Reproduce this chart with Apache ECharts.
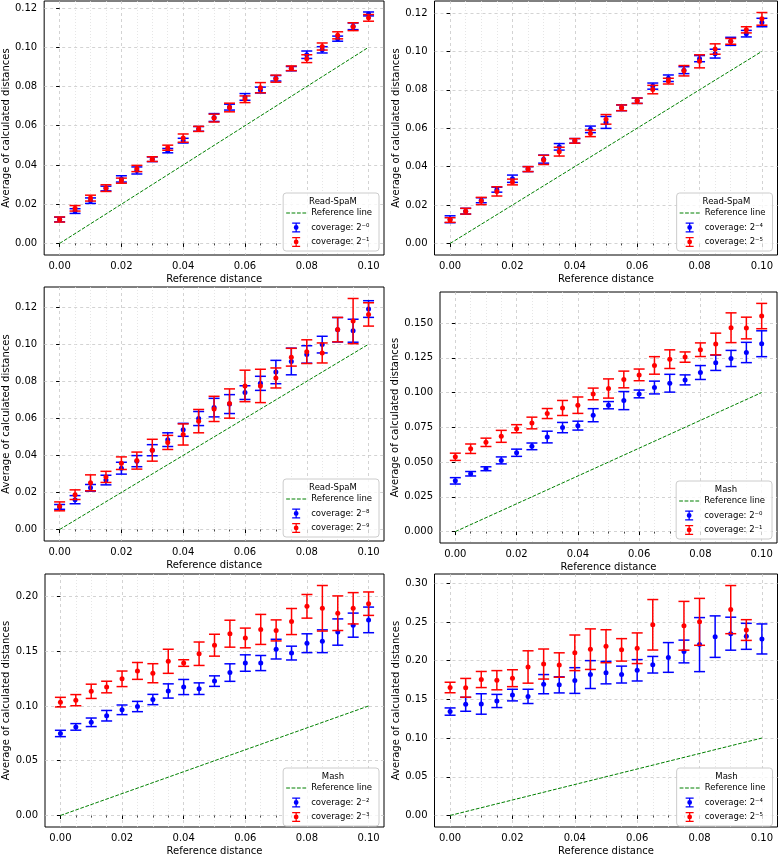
<!DOCTYPE html>
<html>
<head>
<meta charset="utf-8">
<script src="https://cdn.jsdelivr.net/npm/echarts@6/dist/echarts.min.js"></script>
<style>html,body{margin:0;padding:0;background:#fff}#chart{width:778px;height:857px}</style>
</head>
<body>
<div id="chart"></div>
<script>
// ---------------- DATA ----------------
const xValues = [0.000, 0.005, 0.010, 0.015, 0.020, 0.025, 0.030, 0.035, 0.040, 0.045, 0.050,
                 0.055, 0.060, 0.065, 0.070, 0.075, 0.080, 0.085, 0.090, 0.095, 0.100];
const refLineX = [0.0, 0.1];
const xTickLabels = [0.00, 0.02, 0.04, 0.06, 0.08, 0.10];
const yTicks002 = [0.00, 0.02, 0.04, 0.06, 0.08, 0.10, 0.12];
const yTicks0025 = [0.000, 0.025, 0.050, 0.075, 0.100, 0.125, 0.150];
const yTicks005a = [0.00, 0.05, 0.10, 0.15, 0.20];
const yTicks005b = [0.00, 0.05, 0.10, 0.15, 0.20, 0.25, 0.30];

const methodNames = ['Read-SpaM', 'Read-SpaM', 'Read-SpaM', 'Mash', 'Mash', 'Mash'];
const blueNames = ['coverage: 2\u207B\u2070', 'coverage: 2\u207B\u2074', 'coverage: 2\u207B\u2078',
                   'coverage: 2\u207B\u2070', 'coverage: 2\u207B\u00B2', 'coverage: 2\u207B\u2074'];
const redNames  = ['coverage: 2\u207B\u00B9', 'coverage: 2\u207B\u2075', 'coverage: 2\u207B\u2079',
                   'coverage: 2\u207B\u00B9', 'coverage: 2\u207B\u00B3', 'coverage: 2\u207B\u2075'];

// Panel 1: Read-SpaM, 2^-0 / 2^-1
const rs0Mean = [0.0122, 0.0165, 0.0218, 0.0280, 0.0329, 0.0372, 0.0429, 0.0473, 0.0524, 0.0584, 0.0642, 0.0695, 0.0747, 0.0782, 0.0842, 0.0891, 0.0962, 0.0987, 0.1044, 0.1107, 0.1170];
const rs0Err  = [0.0012, 0.0012, 0.0014, 0.0012, 0.0016, 0.0018, 0.0012, 0.0011, 0.0012, 0.0012, 0.0020, 0.0015, 0.0017, 0.0015, 0.0014, 0.0011, 0.0019, 0.0016, 0.0013, 0.0017, 0.0010];
const rs1Mean = [0.0122, 0.0179, 0.0231, 0.0282, 0.0320, 0.0382, 0.0430, 0.0488, 0.0537, 0.0584, 0.0639, 0.0693, 0.0735, 0.0794, 0.0840, 0.0893, 0.0942, 0.1004, 0.1061, 0.1105, 0.1150];
const rs1Err  = [0.0013, 0.0014, 0.0015, 0.0017, 0.0013, 0.0016, 0.0012, 0.0013, 0.0021, 0.0013, 0.0020, 0.0022, 0.0017, 0.0026, 0.0018, 0.0012, 0.0020, 0.0018, 0.0018, 0.0020, 0.0017];
// Panel 2: Read-SpaM, 2^-4 / 2^-5
const rs4Mean = [0.0126, 0.0168, 0.0225, 0.0280, 0.0337, 0.0387, 0.0439, 0.0503, 0.0534, 0.0594, 0.0630, 0.0706, 0.0743, 0.0819, 0.0860, 0.0902, 0.0962, 0.0988, 0.1052, 0.1092, 0.1150];
const rs4Err  = [0.0018, 0.0015, 0.0013, 0.0013, 0.0019, 0.0013, 0.0021, 0.0017, 0.0012, 0.0017, 0.0031, 0.0015, 0.0014, 0.0016, 0.0017, 0.0018, 0.0016, 0.0023, 0.0021, 0.0017, 0.0022];
const rs5Mean = [0.0122, 0.0168, 0.0221, 0.0271, 0.0320, 0.0387, 0.0435, 0.0478, 0.0534, 0.0573, 0.0646, 0.0706, 0.0743, 0.0801, 0.0845, 0.0899, 0.0948, 0.1012, 0.1052, 0.1112, 0.1169];
const rs5Err  = [0.0012, 0.0015, 0.0019, 0.0024, 0.0015, 0.0013, 0.0024, 0.0023, 0.0012, 0.0017, 0.0025, 0.0015, 0.0014, 0.0022, 0.0015, 0.0027, 0.0034, 0.0027, 0.0015, 0.0016, 0.0033];
// Panel 3: Read-SpaM, 2^-8 / 2^-9
const rs8Mean = [0.0122, 0.0161, 0.0225, 0.0267, 0.0331, 0.0369, 0.0428, 0.0485, 0.0538, 0.0599, 0.0658, 0.0677, 0.0739, 0.0789, 0.0850, 0.0907, 0.0945, 0.0998, 0.1078, 0.1073, 0.1190];
const rs8Err  = [0.0013, 0.0022, 0.0018, 0.0026, 0.0032, 0.0030, 0.0030, 0.0037, 0.0035, 0.0038, 0.0050, 0.0051, 0.0037, 0.0038, 0.0063, 0.0072, 0.0047, 0.0045, 0.0066, 0.0062, 0.0045];
const rs9Mean = [0.0125, 0.0188, 0.0252, 0.0284, 0.0358, 0.0372, 0.0428, 0.0470, 0.0513, 0.0585, 0.0651, 0.0680, 0.0775, 0.0775, 0.0818, 0.0930, 0.0960, 0.0953, 0.1079, 0.1125, 0.1161];
const rs9Err  = [0.0024, 0.0026, 0.0043, 0.0030, 0.0034, 0.0046, 0.0059, 0.0038, 0.0057, 0.0063, 0.0068, 0.0079, 0.0085, 0.0090, 0.0054, 0.0048, 0.0064, 0.0054, 0.0066, 0.0122, 0.0063];
// Panel 4: Mash, 2^-0 / 2^-1
const ms0Mean = [0.0365, 0.0416, 0.0452, 0.0512, 0.0567, 0.0613, 0.0680, 0.0748, 0.0762, 0.0837, 0.0909, 0.0942, 0.0990, 0.1036, 0.1067, 0.1091, 0.1144, 0.1214, 0.1245, 0.1288, 0.1351];
const ms0Err  = [0.0023, 0.0016, 0.0014, 0.0025, 0.0026, 0.0024, 0.0042, 0.0037, 0.0032, 0.0047, 0.0026, 0.0065, 0.0028, 0.0046, 0.0064, 0.0036, 0.0050, 0.0055, 0.0058, 0.0073, 0.0093];
const ms1Mean = [0.0538, 0.0596, 0.0642, 0.0685, 0.0740, 0.0781, 0.0849, 0.0889, 0.0909, 0.0990, 0.1029, 0.1094, 0.1127, 0.1195, 0.1240, 0.1255, 0.1308, 0.1349, 0.1466, 0.1464, 0.1550];
const ms1Err  = [0.0026, 0.0034, 0.0030, 0.0043, 0.0029, 0.0042, 0.0036, 0.0054, 0.0059, 0.0042, 0.0069, 0.0060, 0.0042, 0.0063, 0.0067, 0.0037, 0.0049, 0.0078, 0.0107, 0.0078, 0.0091];
// Panel 5: Mash, 2^-2 / 2^-3
const ms2Mean = [0.0749, 0.0809, 0.0851, 0.0911, 0.0965, 0.0995, 0.1059, 0.1137, 0.1173, 0.1158, 0.1227, 0.1305, 0.1392, 0.1392, 0.1519, 0.1483, 0.1573, 0.1591, 0.1675, 0.1738, 0.1786];
const ms2Err  = [0.0029, 0.0030, 0.0039, 0.0048, 0.0044, 0.0047, 0.0047, 0.0065, 0.0069, 0.0053, 0.0048, 0.0080, 0.0075, 0.0069, 0.0090, 0.0063, 0.0086, 0.0104, 0.0120, 0.0110, 0.0117];
const ms3Mean = [0.1035, 0.1053, 0.1134, 0.1173, 0.1248, 0.1320, 0.1299, 0.1408, 0.1392, 0.1477, 0.1555, 0.1660, 0.1621, 0.1699, 0.1690, 0.1771, 0.1910, 0.1892, 0.1847, 0.1892, 0.1934];
const ms3Err  = [0.0044, 0.0051, 0.0065, 0.0053, 0.0071, 0.0077, 0.0087, 0.0110, 0.0030, 0.0107, 0.0100, 0.0123, 0.0090, 0.0137, 0.0096, 0.0119, 0.0108, 0.0208, 0.0158, 0.0143, 0.0107];
// Panel 6: Mash, 2^-4 / 2^-5 (missing red points are null)
const ms4Mean = [0.1342, 0.1436, 0.1440, 0.1479, 0.1555, 0.1538, 0.1696, 0.1687, 0.1743, 0.1820, 0.1845, 0.1820, 0.1875, 0.1947, 0.2041, 0.2118, 0.2207, 0.2310, 0.2348, 0.2314, 0.2280];
const ms4Err  = [0.0047, 0.0090, 0.0132, 0.0085, 0.0075, 0.0092, 0.0124, 0.0104, 0.0166, 0.0180, 0.0145, 0.0109, 0.0138, 0.0107, 0.0192, 0.0147, 0.0349, 0.0268, 0.0213, 0.0168, 0.0194];
const ms5Mean = [0.1653, 0.1649, 0.1756, 0.1747, 0.1773, 0.1918, 0.1956, 0.1943, 0.2101, 0.2148, 0.2186, 0.2139, 0.2160, 0.2463, null, 0.2450, 0.2501, null, 0.2659, 0.2395, null];
const ms5Err  = [0.0068, 0.0121, 0.0104, 0.0124, 0.0109, 0.0209, 0.0194, 0.0158, 0.0230, 0.0262, 0.0213, 0.0145, 0.0198, 0.0326, null, 0.0315, 0.0303, null, 0.0311, 0.0134, null];

// ---------------- LAYOUT / STYLE ----------------
const FONT = '"DejaVu Sans", sans-serif';
const W = 778, H = 857;
const BLUE = '#0000ff', RED = '#ff0000', GREEN = '#008000';
const grids = [
  {left: 41,    top: 1,   width: 343, height: 254},
  {left: 434.5, top: 1,   width: 343, height: 254},
  {left: 41,    top: 287, width: 343, height: 254},
  {left: 440,   top: 292, width: 337, height: 251},
  {left: 41,    top: 574, width: 343, height: 256},
  {left: 434.5, top: 574, width: 343, height: 256}
];
const yRanges = [[-0.0059, 0.1236], [-0.0060, 0.1262], [-0.0062, 0.1309],
                 [-0.0082, 0.1723], [-0.0105, 0.2205], [-0.0149, 0.3119]];
const ySplit = [6, 6, 6, 7, 5, 6];
const yTickSets = [yTicks002, yTicks002, yTicks002, yTicks0025, yTicks005a, yTicks005b];
const yDecimals = [2, 2, 2, 3, 2, 2];
const yNameGap = [33, 31, 33, 37, 34, 31];
const blueMeans = [rs0Mean, rs4Mean, rs8Mean, ms0Mean, ms2Mean, ms4Mean];
const blueErrs  = [rs0Err,  rs4Err,  rs8Err,  ms0Err,  ms2Err,  ms4Err];
const redMeans  = [rs1Mean, rs5Mean, rs9Mean, ms1Mean, ms3Mean, ms5Mean];
const redErrs   = [rs1Err,  rs5Err,  rs9Err,  ms1Err,  ms3Err,  ms5Err];

const dashIcon = 'path://M0 0h3.7v1h-3.7z M5.3 0h3.7v1h-3.7z M10.6 0h3.7v1h-3.7z M15.9 0h3.7v1h-3.7z';
const ebIcon = 'path://M0 0H8V1.3H0Z M3.35 0H4.65V10H3.35Z M0 8.7H8V10H0Z M6.4 5A2.4 2.4 0 1 1 1.6 5A2.4 2.4 0 1 1 6.4 5Z';

function buildData(means, errs) {
  const out = [];
  for (let i = 0; i < xValues.length; i++) {
    if (means[i] == null) continue;
    out.push([xValues[i], means[i], errs[i]]);
  }
  return out;
}

function errorBarRenderer(color) {
  return function (params, api) {
    const x = api.value(0), m = api.value(1), e = api.value(2);
    const hi = api.coord([x, m + e]);
    const lo = api.coord([x, m - e]);
    const c = api.coord([x, m]);
    const cap = 5.5;
    const st = () => ({stroke: color, lineWidth: 1.5});
    return {
      type: 'group',
      children: [
        {type: 'line', shape: {x1: hi[0], y1: hi[1], x2: lo[0], y2: lo[1]}, style: st()},
        {type: 'line', shape: {x1: hi[0] - cap, y1: hi[1], x2: hi[0] + cap, y2: hi[1]}, style: st()},
        {type: 'line', shape: {x1: lo[0] - cap, y1: lo[1], x2: lo[0] + cap, y2: lo[1]}, style: st()},
        {type: 'circle', shape: {cx: c[0], cy: c[1], r: 2.5}, style: {fill: color}}
      ]
    };
  };
}

const option = {
  animation: false,
  backgroundColor: '#ffffff',
  grid: [], xAxis: [], yAxis: [], series: [], legend: [], graphic: []
};

grids.forEach((g, i) => {
  option.grid.push({
    left: g.left, top: g.top, width: g.width, height: g.height,
    show: true, borderColor: '#000', borderWidth: 1, backgroundColor: 'transparent'
  });
  option.xAxis.push({
    type: 'value', gridIndex: i, min: -0.005, max: 0.105, splitNumber: 5,
    name: 'Reference distance', nameLocation: 'middle', nameGap: 19,
    nameTextStyle: {fontFamily: FONT, fontSize: 10, color: '#000'},
    axisLine: {show: false},
    axisTick: {show: true, length: 3.5, lineStyle: {color: '#000', width: 1}, customValues: xTickLabels},
    minorTick: {show: true, splitNumber: 4, length: 2, lineStyle: {color: '#000', width: 0.7}},
    axisLabel: {customValues: xTickLabels, formatter: v => v.toFixed(2), margin: 6,
                fontFamily: FONT, fontSize: 10, color: '#000'},
    splitLine: {show: true, lineStyle: {color: '#c8c8c8', type: [3, 3], width: 0.8}},
    minorSplitLine: {show: true, lineStyle: {color: '#e0e0e0', type: [1, 2], width: 0.8}}
  });
  option.yAxis.push({
    type: 'value', gridIndex: i, min: yRanges[i][0], max: yRanges[i][1], splitNumber: ySplit[i],
    name: 'Average of calculated distances', nameLocation: 'middle', nameGap: yNameGap[i],
    nameTextStyle: {fontFamily: FONT, fontSize: 10, color: '#000'},
    axisLine: {show: false},
    axisTick: {show: true, length: 3.5, lineStyle: {color: '#000', width: 1}, customValues: yTickSets[i]},
    axisLabel: {customValues: yTickSets[i], formatter: v => v.toFixed(yDecimals[i]), margin: 7,
                fontFamily: FONT, fontSize: 10, color: '#000'},
    splitLine: {show: true, lineStyle: {color: '#c8c8c8', type: [3, 3], width: 0.8}}
  });
  option.series.push({
    type: 'line', name: 'Reference line', xAxisIndex: i, yAxisIndex: i,
    data: refLineX.map(v => [v, v]), symbol: 'none', silent: true, z: 2,
    lineStyle: {color: GREEN, width: 1, type: [3.7, 1.6]}, itemStyle: {color: GREEN}
  });
  option.series.push({
    type: 'custom', name: blueNames[i], xAxisIndex: i, yAxisIndex: i, z: 3, clip: false,
    renderItem: errorBarRenderer(BLUE), itemStyle: {color: BLUE},
    encode: {x: 0, y: 1}, data: buildData(blueMeans[i], blueErrs[i])
  });
  option.series.push({
    type: 'custom', name: redNames[i], xAxisIndex: i, yAxisIndex: i, z: 4, clip: false,
    renderItem: errorBarRenderer(RED), itemStyle: {color: RED},
    encode: {x: 0, y: 1}, data: buildData(redMeans[i], redErrs[i])
  });
  const gRight = g.left + g.width, gBottom = g.top + g.height;
  const boxRight = gRight - 5, boxBottom = gBottom - 4, boxH = 58, boxW = 92;
  option.legend.push({
    orient: 'vertical', right: W - boxRight, bottom: H - boxBottom,
    itemWidth: 20, itemHeight: 10, itemGap: 2.5, padding: [14, 7, 3, 3],
    backgroundColor: 'rgba(255,255,255,0.8)', borderColor: '#cccccc', borderWidth: 1, borderRadius: 3,
    textStyle: {fontFamily: FONT, fontSize: 8.5, color: '#000', lineHeight: 12},
    itemStyle: {borderWidth: 0}, selectedMode: false, z: 10,
    data: [
      {name: 'Reference line', icon: dashIcon, itemStyle: {color: GREEN, borderWidth: 0}},
      {name: blueNames[i], icon: ebIcon, itemStyle: {color: BLUE, borderWidth: 0}},
      {name: redNames[i], icon: ebIcon, itemStyle: {color: RED, borderWidth: 0}}
    ]
  });
  option.graphic.push({
    type: 'text', z: 100, x: boxRight - boxW / 2, y: boxBottom - boxH + 8.5,
    style: {text: methodNames[i], font: '8.5px ' + FONT, fill: '#000', align: 'center', verticalAlign: 'middle'}
  });
});

const chart = echarts.init(document.getElementById('chart'), null, {renderer: 'canvas', width: W, height: H});
chart.setOption(option);
</script>
</body>
</html>
